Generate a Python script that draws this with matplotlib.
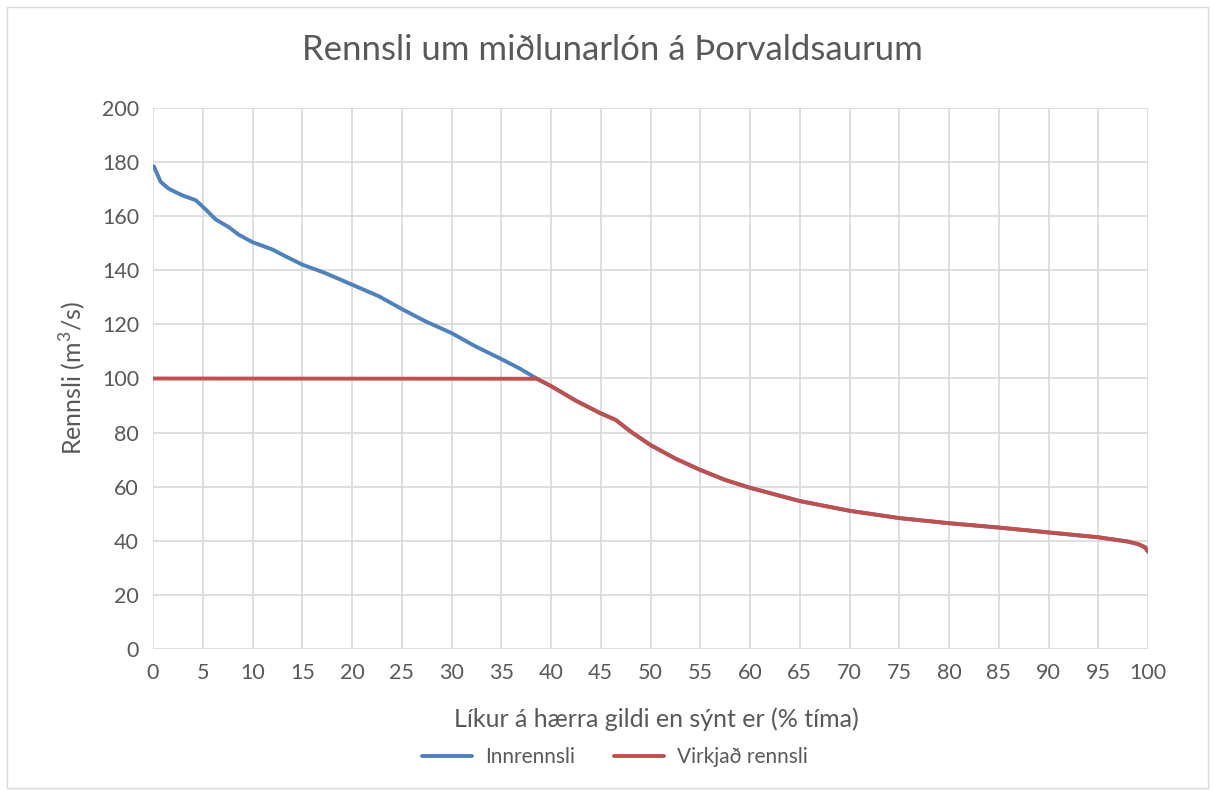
import matplotlib
matplotlib.use("Agg")
import matplotlib.pyplot as plt
from matplotlib.patches import Rectangle

# Data
inn_x = [0, 0.1, 0.77, 1.6, 2.95, 4.3, 5.3, 6.3, 7.6, 8.6, 10, 12, 13.3, 15, 17.3, 20,
         22.7, 25, 27.4, 30, 32.4, 35, 36.8, 38.6,
         40, 42.5, 45, 46.5, 48, 50, 52.5, 55, 57.5, 60, 65, 70, 75, 80, 85, 90, 95,
         98, 99, 99.7, 100]
inn_y = [178.5, 178.3, 172.7, 170.1, 167.7, 165.9, 162.5, 158.8, 156.0, 153.2, 150.4, 147.7,
         145.2, 142.1, 139.0, 134.7, 130.4, 125.7, 121.1, 116.8, 111.9, 107.2, 103.8, 99.9,
         97.2, 91.8, 87.1, 84.7, 80.4, 75.4, 70.4, 66.2, 62.5, 59.6, 54.7, 51.1, 48.4, 46.5,
         44.9, 43.1, 41.3, 39.7, 38.8, 37.6, 36.0]
virk_x = [0, 38.6, 40, 42.5, 45, 46.5, 48, 50, 52.5, 55, 57.5, 60, 65, 70, 75, 80, 85, 90, 95,
          98, 99, 99.7, 100]
virk_y = [100, 99.9, 97.2, 91.8, 87.1, 84.7, 80.4, 75.4, 70.4, 66.2, 62.5, 59.6, 54.7, 51.1,
          48.4, 46.5, 44.9, 43.1, 41.3, 39.7, 38.8, 37.6, 36.0]
x_ticks = list(range(0, 101, 5))
y_ticks = list(range(0, 201, 20))

title = "Rennsli um miðlunarlón á Þorvaldsaurum"
xlabel = "Líkur á hærra gildi en sýnt er (% tíma)"
ylabel = "Rennsli (m$^3$/s)"
labels = ["Innrennsli", "Virkjað rennsli"]

plt.rcParams['font.family'] = ['Lato', 'DejaVu Sans']
plt.rcParams['mathtext.fontset'] = 'custom'
plt.rcParams['mathtext.rm'] = 'Lato'
txt = '#595959'
grid = '#d9d9d9'

W, H = 1213, 791
fig = plt.figure(figsize=(W / 100, H / 100), dpi=100)
fig.patches.append(Rectangle((7 / W, 3 / H), 1201 / W, 781 / H, transform=fig.transFigure,
                             fill=False, edgecolor='#d9d9d9', linewidth=1.0))

ax = fig.add_axes([153 / W, 1 - 649 / H, (1148 - 153) / W, (649 - 108) / H])
ax.set_xlim(0, 100)
ax.set_ylim(0, 200)
ax.set_xticks(x_ticks)
ax.set_yticks(y_ticks)
ax.grid(True, color=grid, linewidth=1.2)
ax.set_axisbelow(True)
for s in ax.spines.values():
    s.set_visible(False)
ax.tick_params(length=0, labelsize=15.5, colors=txt, pad=10)

l1, = ax.plot(inn_x, inn_y, color='#4f81bd', linewidth=2.8, solid_capstyle='round',
              label=labels[0])
l2, = ax.plot(virk_x, virk_y, color='#c0504d', linewidth=2.8, solid_capstyle='round',
              label=labels[1])

fig.text(612 / W, 1 - 50 / H, title, ha='center', va='center', fontsize=25, color=txt)
fig.text(656 / W, 1 - 719 / H, xlabel, ha='center', va='center', fontsize=18, color=txt)
fig.text(73 / W, 1 - 378 / H, ylabel, ha='center', va='center', fontsize=18, color=txt,
         rotation=90)

fig.legend(handles=[l1, l2], labels=labels, loc='center', bbox_to_anchor=(615 / W, 1 - 757 / H),
           ncol=2, frameon=False, fontsize=15, labelcolor=txt, handlelength=2.4,
           columnspacing=1.9, handletextpad=0.6)

fig.savefig('out.png', dpi=100, facecolor='white')
